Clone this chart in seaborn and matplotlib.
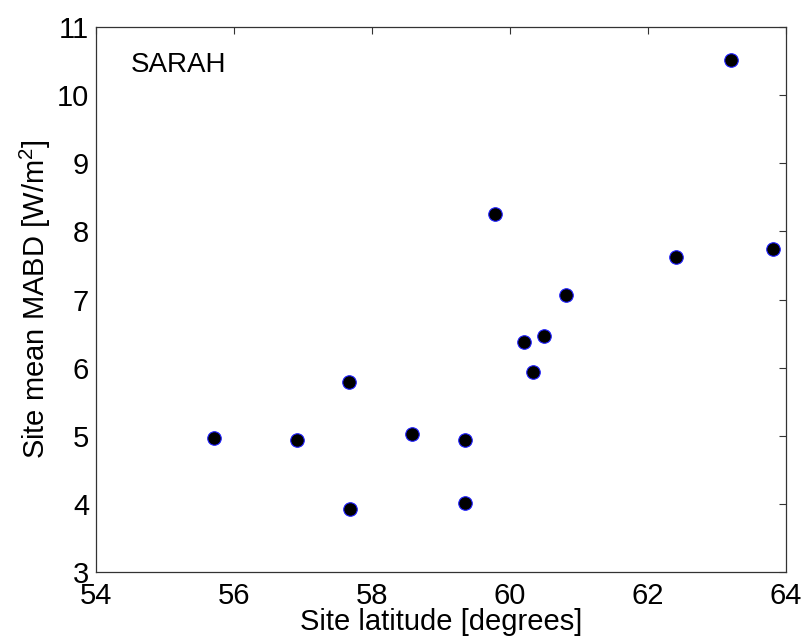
import pandas as pd
import seaborn as sns
import matplotlib
matplotlib.use("Agg")
import matplotlib.pyplot as plt

# Site latitude [degrees] and site mean MABD [W/m2]
latitude = [55.71, 56.91, 57.67, 57.68, 58.58, 59.35, 59.35, 59.78,
            60.20, 60.33, 60.49, 60.81, 62.41, 63.20, 63.81]
mabd = [4.96, 4.94, 5.79, 3.93, 5.03, 4.94, 4.01, 8.25,
        6.38, 5.93, 6.46, 7.07, 7.62, 10.51, 7.74]

x_ticks = [54, 56, 58, 60, 62, 64]
y_ticks = [3, 4, 5, 6, 7, 8, 9, 10, 11]

data = pd.DataFrame({"lat": latitude, "mabd": mabd})

sns.set_style("white")
plt.rcParams["font.family"] = ["Liberation Sans", "DejaVu Sans"]
plt.rcParams["mathtext.fontset"] = "custom"
plt.rcParams["mathtext.rm"] = "Liberation Sans"
plt.rcParams["text.color"] = "black"
plt.rcParams["axes.labelcolor"] = "black"
plt.rcParams["xtick.labelcolor"] = "black"
plt.rcParams["ytick.labelcolor"] = "black"

fig = plt.figure(figsize=(8.03, 6.43), dpi=100)
ax = fig.add_axes([0.1196, 0.1104, 0.8592, 0.8476])

sns.scatterplot(data=data, x="lat", y="mabd", ax=ax, s=95,
                color="black", edgecolor="#2020ff", linewidth=0.8, zorder=3)

ax.set_xlim(54, 64)
ax.set_ylim(3, 11)
ax.set_xticks(x_ticks)
ax.set_yticks(y_ticks)
ax.tick_params(direction="in", length=5, width=0.8, top=True, right=True,
               labelsize=21, color="#333333")
ax.tick_params(axis="x", pad=7)
ax.tick_params(axis="y", pad=5)
for sp in ax.spines.values():
    sp.set_color("#333333")
    sp.set_linewidth(0.9)

ax.set_xlabel("Site latitude [degrees]", fontsize=21, labelpad=-1)
ax.set_ylabel("Site mean MABD [W/m$^2$]", fontsize=21, labelpad=3)
ax.text(0.05, 0.917, "SARAH", transform=ax.transAxes, fontsize=20)

fig.savefig("out.png", dpi=100)
